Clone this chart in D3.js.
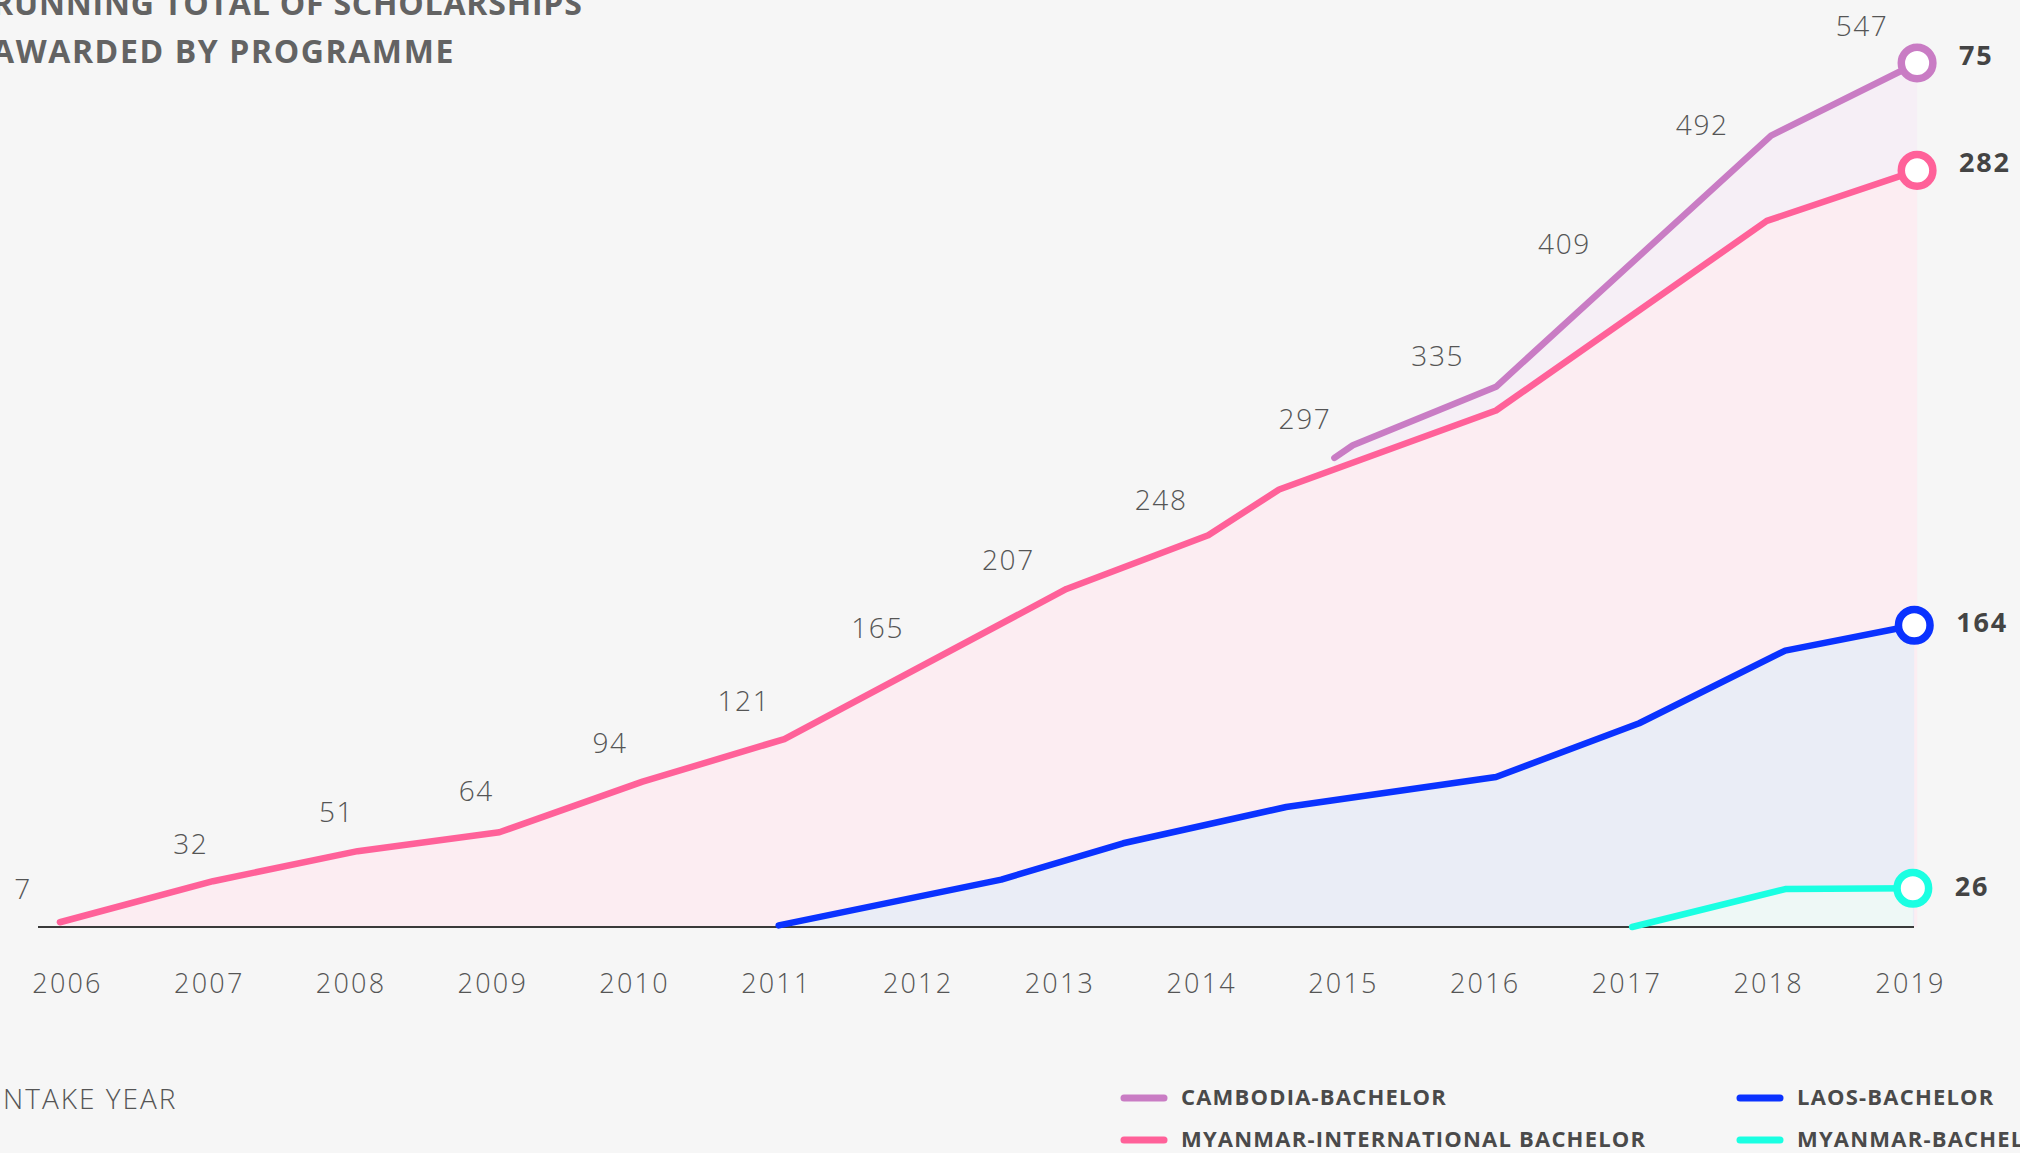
<!DOCTYPE html>
<html><head><meta charset="utf-8">
<script src="https://cdn.jsdelivr.net/npm/d3@7"></script>
<style>
html,body{margin:0;padding:0;background:#f6f6f6;overflow:hidden}
svg{display:block}
text{font-family:"Open Sans",sans-serif}
</style></head><body>
<svg id="chart" width="2020" height="1153"></svg>
<script>
// ---------- DATA ----------
const years = [2006,2007,2008,2009,2010,2011,2012,2013,2014,2015,2016,2017,2018,2019];
const yearTotals = [7,32,51,64,94,121,165,207,248,297,335,409,492,547];
const programmes = ["CAMBODIA-BACHELOR","MYANMAR-INTERNATIONAL BACHELOR","LAOS-BACHELOR","MYANMAR-BACHELOR"];
const programmeTotals = [75,282,164,26];
const programmeColors = ["#c97cc4","#ff6199","#0a32ff","#1affe2"];
const programmeFills  = ["#f6eff6","#fcedf2","#eaedf6","#eef8f6"];
// running totals as plotted (stacked), [intake date as decimal year, value]
const cambodiaLine    = [[2014.94,297],[2015.07,305],[2016.08,342],[2018.02,501],[2019.05,547]];
const myanmarIntlLine = [[2005.95,3],[2007.03,29],[2008.05,48],[2009.05,60],[2010.06,92],[2011.06,119],[2013.05,214],[2014.05,248],[2014.55,277],[2016.08,327],[2017.99,447],[2019.05,479]];
const laosLine        = [[2011.02,1],[2012.59,30],[2013.45,53],[2014.60,76],[2016.08,95],[2017.09,129],[2018.12,175],[2019.03,191]];
const myanmarBachLine = [[2017.04,0],[2018.12,24],[2019.02,24.5]];
const seriesLines = [cambodiaLine, myanmarIntlLine, laosLine, myanmarBachLine];

// label layout nudges (pixels) for the yearly total labels
const totalLabelDx = [-44,-18,-14,-16,-24,-32,-40,-51,-40,-38,-47,-62,-66,-48];
const totalLabelDy = [-17,-22,-24,-25,-26,-25,-28,-30,-25,-29,-32,-27,-15,-27];
const endLabelDy = [2,2,7,8];

// ---------- CHART ----------
const svg = d3.select("#chart");
const W = 2020, H = 1153;
svg.append("rect").attr("width",W).attr("height",H).attr("fill","#f6f6f6");

const x = d3.scaleLinear().domain([2006,2019]).range([67,1910]);
const y = d3.scaleLinear().domain([0,d3.max(yearTotals)]).range([927,63]);

// title
const title = svg.append("text").attr("font-size",32).attr("font-weight",700).attr("fill","#636363");
title.append("tspan").attr("x",-8).attr("y",15).attr("letter-spacing",0.8).text("RUNNING TOTAL OF SCHOLARSHIPS");
title.append("tspan").attr("x",-8).attr("y",63).attr("letter-spacing",1.6).text("AWARDED BY PROGRAMME");

// areas
const area = d3.area().x(d=>x(d[0])).y0(y(0)).y1(d=>y(d[1]));
const line = d3.line().x(d=>x(d[0])).y(d=>y(d[1]));
const gA = svg.append("g");
seriesLines.forEach((s,i)=>{
  gA.append("path").attr("d",area(s)).attr("fill",programmeFills[i]);
});

// baseline
svg.append("line").attr("x1",38).attr("x2",1914).attr("y1",y(0)).attr("y2",y(0))
  .attr("stroke","#3a3a3a").attr("stroke-width",2.2);

// lines
const gL = svg.append("g");
seriesLines.forEach((s,i)=>{
  gL.append("path").attr("d",line(s)).attr("fill","none")
    .attr("stroke",programmeColors[i]).attr("stroke-width",6.5)
    .attr("stroke-linecap","round").attr("stroke-linejoin","round");
});

// end circles + labels
seriesLines.forEach((s,i)=>{
  const last = s[s.length-1];
  svg.append("circle").attr("cx",x(last[0])).attr("cy",y(last[1])).attr("r",15.8)
    .attr("fill","#ffffff").attr("stroke",programmeColors[i]).attr("stroke-width",7.5);
  svg.append("text").attr("x",x(last[0])+42).attr("y",y(last[1])+endLabelDy[i])
    .attr("font-size",27).attr("font-weight",700).attr("fill","#444444").attr("letter-spacing",1.8)
    .text(programmeTotals[i]);
});

// yearly total labels
svg.append("g").selectAll("text").data(yearTotals).join("text")
  .attr("x",(d,i)=>x(years[i])+totalLabelDx[i])
  .attr("y",(d,i)=>y(d)+totalLabelDy[i])
  .attr("text-anchor","middle").attr("font-size",28).attr("font-weight",300)
  .attr("letter-spacing",1.6).attr("fill","#555555").text(d=>d);

// x axis
const xAxis = d3.axisBottom(x).tickValues(years).tickFormat(d3.format("d")).tickSize(0).tickPadding(0);
const gx = svg.append("g").attr("transform","translate(0,993)").call(xAxis);
gx.select(".domain").remove();
gx.selectAll("text").attr("y",0).attr("dy",0).attr("font-size",27).attr("font-weight",300)
  .attr("letter-spacing",2.2).attr("fill","#555555").attr("font-family","'Open Sans',sans-serif");

// axis title
svg.append("text").attr("x",-6).attr("y",1109).attr("font-size",28).attr("font-weight",300)
  .attr("letter-spacing",2).attr("fill","#555555").text("INTAKE YEAR");

// legend
const legendPos = [[1121,1098],[1121,1140],[1737,1098],[1737,1140]];
programmes.forEach((p,i)=>{
  const [lx,ly] = legendPos[i];
  svg.append("line").attr("x1",lx+3).attr("x2",lx+43).attr("y1",ly).attr("y2",ly)
    .attr("stroke",programmeColors[i]).attr("stroke-width",7).attr("stroke-linecap","round");
  svg.append("text").attr("x",lx+60).attr("y",ly+6.5).attr("font-size",22).attr("font-weight",700)
    .attr("letter-spacing",1.2).attr("fill","#4a4a4a").text(p);
});
</script>
</body></html>
